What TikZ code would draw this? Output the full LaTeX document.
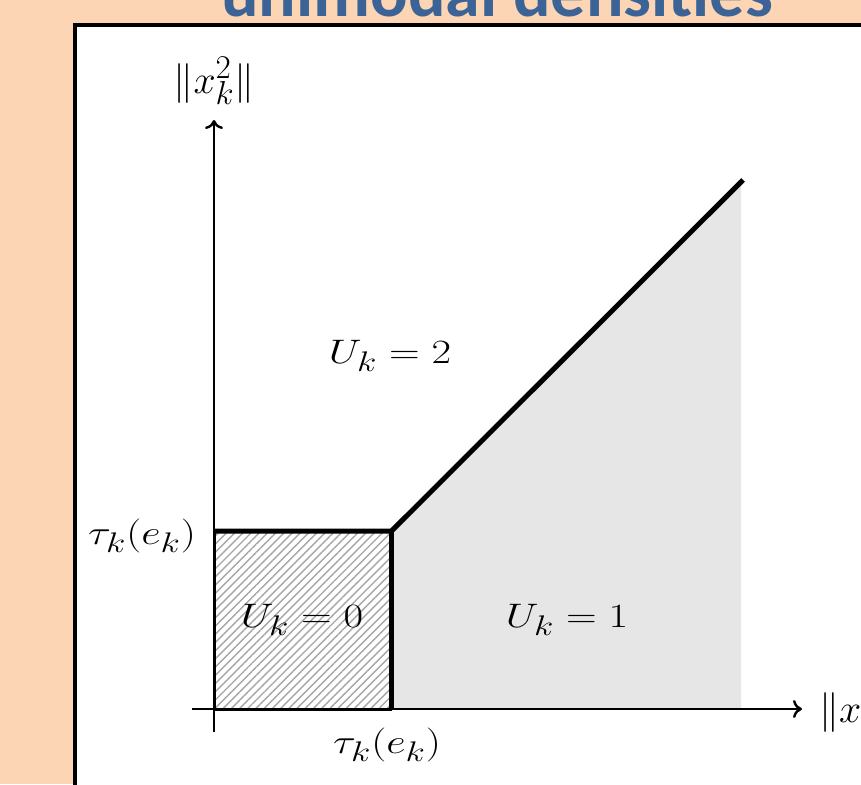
\documentclass[tikz,border=0pt]{standalone}
\usepackage{fontspec}
\newfontfamily\carlito{Carlito}
\usetikzlibrary{arrows.meta,patterns.meta}
\definecolor{peach}{HTML}{FCD5B5}
\definecolor{titleblue}{HTML}{3B6396}
\definecolor{regiongray}{HTML}{E6E6E6}
\tikzset{
  lab/.style={inner sep=0pt, font=\Huge},
  axis/.style={line width=2.4pt, -{To[length=9pt,width=18pt]}},
  bound/.style={line width=5pt},
}
\newcommand{\mywide}[1]{\scalebox{1.71}[1.367]{#1}}
\newcommand{\mybig}[1]{\scalebox{1.6}[1.6]{#1}}
\begin{document}
\begin{tikzpicture}[x=1pt,y=-1pt]
\useasboundingbox (0,0) rectangle (861,784);
\clip (0,0) rectangle (861,784);
\fill[peach] (0,0) rectangle (861,784);
\node[font=\fontsize{70}{80}\selectfont\carlito\bfseries, text=titleblue, anchor=base, inner sep=0pt] (title) at (497,17) {unimodal densities};
\draw[line width=4pt, fill=white] (74.7,25.3) rectangle (920,840);
% coordinates
\coordinate (O) at (214,709);
\coordinate (C) at (391.5,531);
\coordinate (Yt) at (214,531);
\coordinate (Xb) at (391.5,709);
\coordinate (D) at (743,180);
\coordinate (Dg) at (741,182);
\coordinate (Dgb) at (741,709);
% regions
\fill[regiongray] (C) -- (Dg) -- (Dgb) -- (Xb) -- cycle;
\fill[white] (Yt) rectangle (Xb);
\fill[pattern={Lines[angle=45,distance=5.8pt,line width=1.4pt]}, pattern color=black!35] (Yt) rectangle (Xb);
% axes
\coordinate (xs) at (191.7,709);
\coordinate (xe) at (802,709);
\coordinate (ys) at (214,732);
\coordinate (ye) at (214,120);
\draw[axis] (xs) -- (xe);
\draw[axis] (ys) -- (ye);
\draw[line width=3pt] (Yt) -- (O) -- (Xb);
% boundaries
\draw[bound] (Yt) -- (C) -- (D);
\draw[bound] (C) -- (Xb);
% labels
\node[lab] (ylab) at (214,81) {\mybig{$\|x_k^2\|$}};
\node[lab, anchor=west] (xlab) at (819,710) {\mybig{$\|x_k^1\|$}};
\node[lab] (u2) at (390,356) {\mywide{$U_k = 2$}};
\node[lab] (u0) at (302,620) {\mywide{$U_k = 0$}};
\node[lab] (u1) at (567,620) {\mywide{$U_k = 1$}};
\node[lab] (tauy) at (142,536) {\mywide{$\tau_k(e_k)$}};
\node[lab] (taux) at (387,745) {\mywide{$\tau_k(e_k)$}};
\end{tikzpicture}
\end{document}
